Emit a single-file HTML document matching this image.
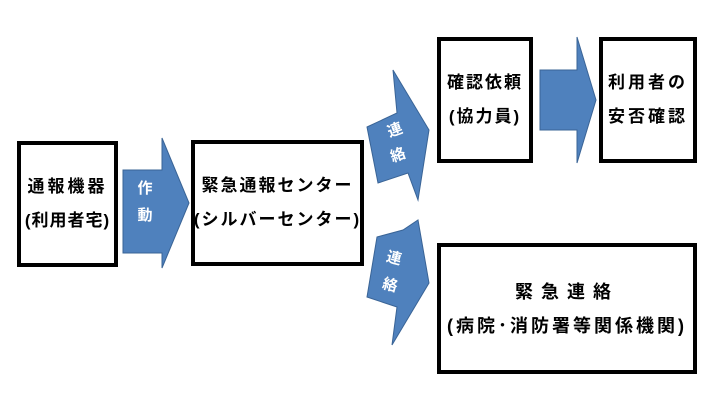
<!DOCTYPE html>
<html><head><meta charset="utf-8"><style>
body{margin:0;width:711px;height:400px;background:#fff;position:relative;overflow:hidden;font-family:"Liberation Sans","Noto Sans CJK JP",sans-serif;font-weight:bold;}
.b{position:absolute;border:4px solid #000;box-sizing:border-box;display:flex;flex-direction:column;justify-content:center;align-items:center;font-size:17px;line-height:34px;letter-spacing:1px;white-space:nowrap;}
svg{position:absolute;left:0;top:0}
</style></head><body>
<svg width="711" height="400">
<g fill="#4f81bd" stroke="#3a6496" stroke-width="1">
<polygon points="123,170 162,170 162,138 189,203 162,268 162,253 123,253"/>
<polygon points="540,70 577,70 577,37 596,100 577,163 577,130 540,130"/>
<polygon points="367,127 397,113 393,70 429,130 418,200 408,173 378,183"/>
<polygon points="377,237 403,230 418,220 429,283 392,345 397,307 367,297"/>
</g>
<g fill="#fff" font-size="15" font-weight="bold" font-family="Liberation Sans,Noto Sans CJK JP,sans-serif" text-anchor="middle">
<text x="145" y="193">作</text><text x="145" y="220">動</text>
<text x="395" y="135" transform="rotate(-20 395 130)">連</text><text x="398" y="160" transform="rotate(-20 398 155)">絡</text>
<text x="394" y="263" transform="rotate(15 394 258)">連</text><text x="390" y="290" transform="rotate(15 390 285)">絡</text>
</g>
</svg>
<div class="b" style="left:17px;top:141px;width:101px;height:126px;"><span style="letter-spacing:3px">通報機器</span><span>(利用者宅)</span></div>
<div class="b" style="left:191px;top:140px;width:173px;height:126px;font-size:17px;letter-spacing:2px"><span>緊急通報センター</span><span>(シルバーセンター)</span></div>
<div class="b" style="left:437px;top:37px;width:96px;height:126px;letter-spacing:2px"><span>確認依頼</span><span>(協力員)</span></div>
<div class="b" style="left:599px;top:37px;width:98px;height:126px;letter-spacing:3px"><span>利用者の</span><span>安否確認</span></div>
<div class="b" style="left:437px;top:243px;width:260px;height:131px;font-size:18px;letter-spacing:3px"><span style="letter-spacing:8px">緊急連絡</span><span>(病院･消防署等関係機関)</span></div>
</body></html>
